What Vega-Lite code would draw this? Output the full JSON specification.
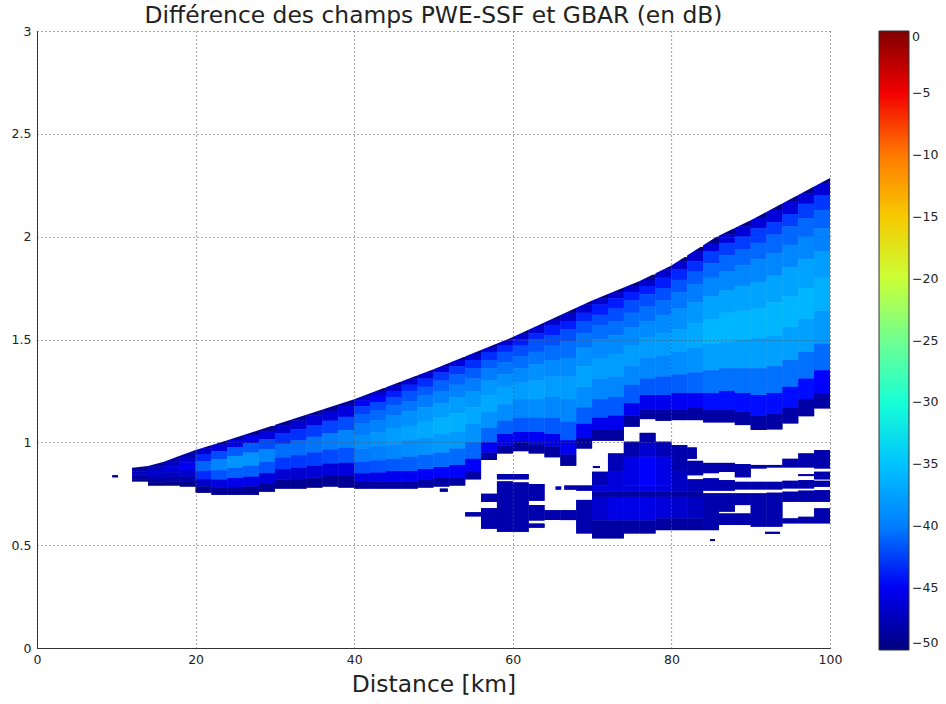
{"$schema":"https://vega.github.io/schema/vega-lite/v6.json","width":793,"height":617,"autosize":"none","padding":{"left":37,"top":31,"right":116,"bottom":56},"background":"white",
"title":{"text":"Différence des champs PWE-SSF et GBAR (en dB)","fontSize":23.4,"font":"DejaVu Sans","fontWeight":"normal","color":"#222","anchor":"middle","offset":-3},
"config":{"view":{"stroke":null},"font":"DejaVu Sans"},
"datasets":{"cells":[
{"x":9.5,"x2":10.2,"y":0.84,"y2":0.83,"v":-49},
{"x":12,"x2":14,"y":0.885,"y2":0.879,"v":-49.7},{"x":12,"x2":14,"y":0.879,"y2":0.87,"v":-48.8},{"x":12,"x2":14,"y":0.87,"y2":0.859,"v":-47.9},{"x":12,"x2":14,"y":0.859,"y2":0.844,"v":-47},{"x":12,"x2":14,"y":0.844,"y2":0.831,"v":-47.8},{"x":12,"x2":14,"y":0.831,"y2":0.82,"v":-48.8},{"x":12,"x2":14,"y":0.82,"y2":0.81,"v":-49.7},
{"x":14,"x2":16,"y":0.905,"y2":0.896,"v":-49.7},{"x":14,"x2":16,"y":0.896,"y2":0.882,"v":-48.6},{"x":14,"x2":16,"y":0.882,"y2":0.865,"v":-47.6},{"x":14,"x2":16,"y":0.865,"y2":0.842,"v":-46.5},{"x":14,"x2":16,"y":0.842,"y2":0.822,"v":-47.5},{"x":14,"x2":16,"y":0.822,"y2":0.805,"v":-48.6},{"x":14,"x2":16,"y":0.805,"y2":0.79,"v":-49.7},
{"x":16,"x2":18,"y":0.935,"y2":0.923,"v":-49.6},{"x":16,"x2":18,"y":0.923,"y2":0.906,"v":-48.4},{"x":16,"x2":18,"y":0.906,"y2":0.884,"v":-47.2},{"x":16,"x2":18,"y":0.884,"y2":0.855,"v":-46},{"x":16,"x2":18,"y":0.855,"y2":0.831,"v":-47.1},{"x":16,"x2":18,"y":0.831,"y2":0.809,"v":-48.4},{"x":16,"x2":18,"y":0.809,"y2":0.79,"v":-49.6},
{"x":18,"x2":20,"y":0.965,"y2":0.951,"v":-49.5},{"x":18,"x2":20,"y":0.951,"y2":0.929,"v":-48},{"x":18,"x2":20,"y":0.929,"y2":0.902,"v":-46.5},{"x":18,"x2":20,"y":0.902,"y2":0.866,"v":-45},{"x":18,"x2":20,"y":0.866,"y2":0.835,"v":-46.4},{"x":18,"x2":20,"y":0.835,"y2":0.808,"v":-48},{"x":18,"x2":20,"y":0.808,"y2":0.785,"v":-49.5},
{"x":20,"x2":22,"y":0.99,"y2":0.971,"v":-49.2},{"x":20,"x2":22,"y":0.971,"y2":0.943,"v":-46.6},{"x":20,"x2":22,"y":0.943,"y2":0.908,"v":-44},{"x":20,"x2":22,"y":0.908,"y2":0.861,"v":-41.5},{"x":20,"x2":22,"y":0.861,"y2":0.821,"v":-43.9},{"x":20,"x2":22,"y":0.821,"y2":0.786,"v":-46.6},{"x":20,"x2":22,"y":0.786,"y2":0.755,"v":-49.2},
{"x":22,"x2":24,"y":1.01,"y2":0.989,"v":-49},{"x":22,"x2":24,"y":0.989,"y2":0.957,"v":-45.8},{"x":22,"x2":24,"y":0.957,"y2":0.917,"v":-42.7},{"x":22,"x2":24,"y":0.917,"y2":0.864,"v":-39.5},{"x":22,"x2":24,"y":0.864,"y2":0.819,"v":-42.4},{"x":22,"x2":24,"y":0.819,"y2":0.779,"v":-45.8},{"x":22,"x2":24,"y":0.779,"y2":0.745,"v":-49},
{"x":24,"x2":26,"y":1.035,"y2":1.012,"v":-48.9},{"x":24,"x2":26,"y":1.012,"y2":0.977,"v":-45.4},{"x":24,"x2":26,"y":0.977,"y2":0.934,"v":-42},{"x":24,"x2":26,"y":0.934,"y2":0.876,"v":-38.5},{"x":24,"x2":26,"y":0.876,"y2":0.826,"v":-41.7},{"x":24,"x2":26,"y":0.826,"y2":0.783,"v":-45.4},{"x":24,"x2":26,"y":0.783,"y2":0.745,"v":-48.9},
{"x":26,"x2":28,"y":1.06,"y2":1.035,"v":-48.9},{"x":26,"x2":28,"y":1.035,"y2":0.997,"v":-45.4},{"x":26,"x2":28,"y":0.997,"y2":0.95,"v":-42},{"x":26,"x2":28,"y":0.95,"y2":0.887,"v":-38.5},{"x":26,"x2":28,"y":0.887,"y2":0.833,"v":-41.7},{"x":26,"x2":28,"y":0.833,"y2":0.786,"v":-45.4},{"x":26,"x2":28,"y":0.786,"y2":0.745,"v":-48.9},
{"x":28,"x2":30,"y":1.08,"y2":1.054,"v":-49},{"x":28,"x2":30,"y":1.054,"y2":1.016,"v":-45.8},{"x":28,"x2":30,"y":1.016,"y2":0.968,"v":-42.7},{"x":28,"x2":30,"y":0.968,"y2":0.904,"v":-39.5},{"x":28,"x2":30,"y":0.904,"y2":0.85,"v":-42.4},{"x":28,"x2":30,"y":0.85,"y2":0.802,"v":-45.8},{"x":28,"x2":30,"y":0.802,"y2":0.76,"v":-49},
{"x":30,"x2":32,"y":1.11,"y2":1.083,"v":-49.1},{"x":30,"x2":32,"y":1.083,"y2":1.043,"v":-46.4},{"x":30,"x2":32,"y":1.043,"y2":0.993,"v":-43.7},{"x":30,"x2":32,"y":0.993,"y2":0.926,"v":-41},{"x":30,"x2":32,"y":0.926,"y2":0.869,"v":-43.5},{"x":30,"x2":32,"y":0.869,"y2":0.819,"v":-46.4},{"x":30,"x2":32,"y":0.819,"y2":0.775,"v":-49.1},
{"x":32,"x2":34,"y":1.135,"y2":1.106,"v":-49.1},{"x":32,"x2":34,"y":1.106,"y2":1.063,"v":-46.4},{"x":32,"x2":34,"y":1.063,"y2":1.009,"v":-43.7},{"x":32,"x2":34,"y":1.009,"y2":0.937,"v":-41},{"x":32,"x2":34,"y":0.937,"y2":0.876,"v":-43.5},{"x":32,"x2":34,"y":0.876,"y2":0.822,"v":-46.4},{"x":32,"x2":34,"y":0.822,"y2":0.775,"v":-49.1},
{"x":34,"x2":36,"y":1.16,"y2":1.13,"v":-49},{"x":34,"x2":36,"y":1.13,"y2":1.084,"v":-46.2},{"x":34,"x2":36,"y":1.084,"y2":1.027,"v":-43.4},{"x":34,"x2":36,"y":1.027,"y2":0.951,"v":-40.5},{"x":34,"x2":36,"y":0.951,"y2":0.886,"v":-43.2},{"x":34,"x2":36,"y":0.886,"y2":0.829,"v":-46.2},{"x":34,"x2":36,"y":0.829,"y2":0.78,"v":-49},
{"x":36,"x2":38,"y":1.185,"y2":1.153,"v":-49},{"x":36,"x2":38,"y":1.153,"y2":1.105,"v":-46},{"x":36,"x2":38,"y":1.105,"y2":1.045,"v":-43},{"x":36,"x2":38,"y":1.045,"y2":0.965,"v":-40},{"x":36,"x2":38,"y":0.965,"y2":0.897,"v":-42.8},{"x":36,"x2":38,"y":0.897,"y2":0.837,"v":-46},{"x":36,"x2":38,"y":0.837,"y2":0.785,"v":-49},
{"x":38,"x2":40,"y":1.21,"y2":1.176,"v":-49},{"x":38,"x2":40,"y":1.176,"y2":1.124,"v":-45.8},{"x":38,"x2":40,"y":1.124,"y2":1.06,"v":-42.7},{"x":38,"x2":40,"y":1.06,"y2":0.974,"v":-39.5},{"x":38,"x2":40,"y":0.974,"y2":0.9,"v":-42.4},{"x":38,"x2":40,"y":0.9,"y2":0.836,"v":-45.8},{"x":38,"x2":40,"y":0.836,"y2":0.78,"v":-49},
{"x":40,"x2":42,"y":1.24,"y2":1.226,"v":-49.8},{"x":40,"x2":42,"y":1.226,"y2":1.203,"v":-46.9},{"x":40,"x2":42,"y":1.203,"y2":1.175,"v":-44.7},{"x":40,"x2":42,"y":1.175,"y2":1.138,"v":-43.2},{"x":40,"x2":42,"y":1.138,"y2":1.091,"v":-41.6},{"x":40,"x2":42,"y":1.091,"y2":1.035,"v":-40.1},{"x":40,"x2":42,"y":1.035,"y2":0.97,"v":-39},{"x":40,"x2":42,"y":0.97,"y2":0.905,"v":-40.3},{"x":40,"x2":42,"y":0.905,"y2":0.849,"v":-42.7},{"x":40,"x2":42,"y":0.849,"y2":0.808,"v":-45.6},{"x":40,"x2":42,"y":0.808,"y2":0.775,"v":-48.7},
{"x":42,"x2":44,"y":1.265,"y2":1.25,"v":-49.8},{"x":42,"x2":44,"y":1.25,"y2":1.226,"v":-46.8},{"x":42,"x2":44,"y":1.226,"y2":1.196,"v":-44.5},{"x":42,"x2":44,"y":1.196,"y2":1.157,"v":-42.9},{"x":42,"x2":44,"y":1.157,"y2":1.108,"v":-41.3},{"x":42,"x2":44,"y":1.108,"y2":1.049,"v":-39.7},{"x":42,"x2":44,"y":1.049,"y2":0.981,"v":-38.5},{"x":42,"x2":44,"y":0.981,"y2":0.912,"v":-39.9},{"x":42,"x2":44,"y":0.912,"y2":0.853,"v":-42.4},{"x":42,"x2":44,"y":0.853,"y2":0.809,"v":-45.4},{"x":42,"x2":44,"y":0.809,"y2":0.775,"v":-48.6},
{"x":44,"x2":46,"y":1.295,"y2":1.28,"v":-49.8},{"x":44,"x2":46,"y":1.28,"y2":1.25,"v":-46.6},{"x":44,"x2":46,"y":1.25,"y2":1.22,"v":-44.2},{"x":44,"x2":46,"y":1.22,"y2":1.18,"v":-42.6},{"x":44,"x2":46,"y":1.18,"y2":1.13,"v":-40.9},{"x":44,"x2":46,"y":1.13,"y2":1.07,"v":-39.2},{"x":44,"x2":46,"y":1.07,"y2":0.99,"v":-38},{"x":44,"x2":46,"y":0.99,"y2":0.92,"v":-39.4},{"x":44,"x2":46,"y":0.92,"y2":0.86,"v":-42.1},{"x":44,"x2":46,"y":0.86,"y2":0.81,"v":-45.2},{"x":44,"x2":46,"y":0.81,"y2":0.775,"v":-48.6},
{"x":46,"x2":48,"y":1.325,"y2":1.31,"v":-49.8},{"x":46,"x2":48,"y":1.31,"y2":1.28,"v":-46.5},{"x":46,"x2":48,"y":1.28,"y2":1.25,"v":-44},{"x":46,"x2":48,"y":1.25,"y2":1.2,"v":-42.3},{"x":46,"x2":48,"y":1.2,"y2":1.15,"v":-40.5},{"x":46,"x2":48,"y":1.15,"y2":1.08,"v":-38.8},{"x":46,"x2":48,"y":1.08,"y2":1.01,"v":-37.5},{"x":46,"x2":48,"y":1.01,"y2":0.93,"v":-39},{"x":46,"x2":48,"y":0.93,"y2":0.86,"v":-41.8},{"x":46,"x2":48,"y":0.86,"y2":0.81,"v":-45},{"x":46,"x2":48,"y":0.81,"y2":0.775,"v":-48.5},
{"x":48,"x2":50,"y":1.355,"y2":1.34,"v":-49.7},{"x":48,"x2":50,"y":1.34,"y2":1.31,"v":-46.4},{"x":48,"x2":50,"y":1.31,"y2":1.27,"v":-43.8},{"x":48,"x2":50,"y":1.27,"y2":1.23,"v":-41.9},{"x":48,"x2":50,"y":1.23,"y2":1.17,"v":-40.1},{"x":48,"x2":50,"y":1.17,"y2":1.1,"v":-38.3},{"x":48,"x2":50,"y":1.1,"y2":1.02,"v":-37},{"x":48,"x2":50,"y":1.02,"y2":0.94,"v":-38.6},{"x":48,"x2":50,"y":0.94,"y2":0.87,"v":-41.4},{"x":48,"x2":50,"y":0.87,"y2":0.82,"v":-44.8},{"x":48,"x2":50,"y":0.82,"y2":0.78,"v":-48.4},
{"x":50,"x2":52,"y":1.385,"y2":1.37,"v":-49.7},{"x":50,"x2":52,"y":1.37,"y2":1.34,"v":-46.2},{"x":50,"x2":52,"y":1.34,"y2":1.3,"v":-43.5},{"x":50,"x2":52,"y":1.3,"y2":1.25,"v":-41.6},{"x":50,"x2":52,"y":1.25,"y2":1.19,"v":-39.7},{"x":50,"x2":52,"y":1.19,"y2":1.12,"v":-37.9},{"x":50,"x2":52,"y":1.12,"y2":1.04,"v":-36.5},{"x":50,"x2":52,"y":1.04,"y2":0.95,"v":-38.1},{"x":50,"x2":52,"y":0.95,"y2":0.88,"v":-41.1},{"x":50,"x2":52,"y":0.88,"y2":0.83,"v":-44.6},{"x":50,"x2":52,"y":0.83,"y2":0.785,"v":-48.4},
{"x":52,"x2":54,"y":1.415,"y2":1.4,"v":-49.7},{"x":52,"x2":54,"y":1.4,"y2":1.37,"v":-46.2},{"x":52,"x2":54,"y":1.37,"y2":1.33,"v":-43.5},{"x":52,"x2":54,"y":1.33,"y2":1.28,"v":-41.6},{"x":52,"x2":54,"y":1.28,"y2":1.22,"v":-39.7},{"x":52,"x2":54,"y":1.22,"y2":1.14,"v":-37.9},{"x":52,"x2":54,"y":1.14,"y2":1.05,"v":-36.5},{"x":52,"x2":54,"y":1.05,"y2":0.97,"v":-38.1},{"x":52,"x2":54,"y":0.97,"y2":0.89,"v":-41.1},{"x":52,"x2":54,"y":0.89,"y2":0.83,"v":-44.6},{"x":52,"x2":54,"y":0.83,"y2":0.79,"v":-48.4},
{"x":54,"x2":56,"y":1.45,"y2":1.43,"v":-49.7},{"x":54,"x2":56,"y":1.43,"y2":1.4,"v":-46.4},{"x":54,"x2":56,"y":1.4,"y2":1.36,"v":-43.8},{"x":54,"x2":56,"y":1.36,"y2":1.31,"v":-41.9},{"x":54,"x2":56,"y":1.31,"y2":1.25,"v":-40.1},{"x":54,"x2":56,"y":1.25,"y2":1.17,"v":-38.3},{"x":54,"x2":56,"y":1.17,"y2":1.09,"v":-37},{"x":54,"x2":56,"y":1.09,"y2":1,"v":-38.6},{"x":54,"x2":56,"y":1,"y2":0.92,"v":-41.4},{"x":54,"x2":56,"y":0.92,"y2":0.86,"v":-44.8},{"x":54,"x2":56,"y":0.86,"y2":0.82,"v":-48.4},
{"x":56,"x2":58,"y":1.48,"y2":1.46,"v":-49.7},{"x":56,"x2":58,"y":1.46,"y2":1.44,"v":-46.4},{"x":56,"x2":58,"y":1.44,"y2":1.4,"v":-43.8},{"x":56,"x2":58,"y":1.4,"y2":1.36,"v":-41.9},{"x":56,"x2":58,"y":1.36,"y2":1.3,"v":-40.1},{"x":56,"x2":58,"y":1.3,"y2":1.23,"v":-38.3},{"x":56,"x2":58,"y":1.23,"y2":1.15,"v":-37},{"x":56,"x2":58,"y":1.15,"y2":1.07,"v":-38.6},{"x":56,"x2":58,"y":1.07,"y2":1,"v":-41.4},{"x":56,"x2":58,"y":1,"y2":0.95,"v":-44.8},{"x":56,"x2":58,"y":0.95,"y2":0.914,"v":-48.4},
{"x":58,"x2":60,"y":1.515,"y2":1.5,"v":-49.8},{"x":58,"x2":60,"y":1.5,"y2":1.47,"v":-46.5},{"x":58,"x2":60,"y":1.47,"y2":1.44,"v":-44},{"x":58,"x2":60,"y":1.44,"y2":1.39,"v":-42.3},{"x":58,"x2":60,"y":1.39,"y2":1.33,"v":-40.5},{"x":58,"x2":60,"y":1.33,"y2":1.27,"v":-38.8},{"x":58,"x2":60,"y":1.27,"y2":1.185,"v":-37.5},{"x":58,"x2":60,"y":1.185,"y2":1.105,"v":-39},{"x":58,"x2":60,"y":1.105,"y2":1.04,"v":-41.8},{"x":58,"x2":60,"y":1.04,"y2":0.985,"v":-45},{"x":58,"x2":60,"y":0.985,"y2":0.946,"v":-48.5},
{"x":60,"x2":62,"y":1.55,"y2":1.53,"v":-49.8},{"x":60,"x2":62,"y":1.53,"y2":1.5,"v":-46.6},{"x":60,"x2":62,"y":1.5,"y2":1.47,"v":-44.2},{"x":60,"x2":62,"y":1.47,"y2":1.42,"v":-42.6},{"x":60,"x2":62,"y":1.42,"y2":1.36,"v":-40.9},{"x":60,"x2":62,"y":1.36,"y2":1.29,"v":-39.2},{"x":60,"x2":62,"y":1.29,"y2":1.21,"v":-38},{"x":60,"x2":62,"y":1.21,"y2":1.12,"v":-39.4},{"x":60,"x2":62,"y":1.12,"y2":1.05,"v":-42.1},{"x":60,"x2":62,"y":1.05,"y2":1,"v":-45.2},{"x":60,"x2":62,"y":1,"y2":0.957,"v":-48.6},
{"x":62,"x2":64,"y":1.585,"y2":1.57,"v":-49.8},{"x":62,"x2":64,"y":1.57,"y2":1.53,"v":-46.5},{"x":62,"x2":64,"y":1.53,"y2":1.5,"v":-44},{"x":62,"x2":64,"y":1.5,"y2":1.44,"v":-42.3},{"x":62,"x2":64,"y":1.44,"y2":1.38,"v":-40.5},{"x":62,"x2":64,"y":1.38,"y2":1.3,"v":-38.8},{"x":62,"x2":64,"y":1.3,"y2":1.21,"v":-37.5},{"x":62,"x2":64,"y":1.21,"y2":1.12,"v":-39},{"x":62,"x2":64,"y":1.12,"y2":1.05,"v":-41.8},{"x":62,"x2":64,"y":1.05,"y2":0.99,"v":-45},{"x":62,"x2":64,"y":0.99,"y2":0.946,"v":-48.5},
{"x":64,"x2":66,"y":1.62,"y2":1.6,"v":-49.8},{"x":64,"x2":66,"y":1.6,"y2":1.57,"v":-46.6},{"x":64,"x2":66,"y":1.57,"y2":1.52,"v":-44.2},{"x":64,"x2":66,"y":1.52,"y2":1.47,"v":-42.6},{"x":64,"x2":66,"y":1.47,"y2":1.4,"v":-40.9},{"x":64,"x2":66,"y":1.4,"y2":1.32,"v":-39.2},{"x":64,"x2":66,"y":1.32,"y2":1.22,"v":-38},{"x":64,"x2":66,"y":1.22,"y2":1.12,"v":-39.4},{"x":64,"x2":66,"y":1.12,"y2":1.04,"v":-42.1},{"x":64,"x2":66,"y":1.04,"y2":0.98,"v":-45.2},{"x":64,"x2":66,"y":0.98,"y2":0.927,"v":-48.6},
{"x":66,"x2":68,"y":1.655,"y2":1.63,"v":-49.8},{"x":66,"x2":68,"y":1.63,"y2":1.59,"v":-46.6},{"x":66,"x2":68,"y":1.59,"y2":1.55,"v":-44.2},{"x":66,"x2":68,"y":1.55,"y2":1.49,"v":-42.6},{"x":66,"x2":68,"y":1.49,"y2":1.41,"v":-40.9},{"x":66,"x2":68,"y":1.41,"y2":1.32,"v":-39.2},{"x":66,"x2":68,"y":1.32,"y2":1.21,"v":-38},{"x":66,"x2":68,"y":1.21,"y2":1.1,"v":-39.4},{"x":66,"x2":68,"y":1.1,"y2":1.01,"v":-42.1},{"x":66,"x2":68,"y":1.01,"y2":0.94,"v":-45.2},{"x":66,"x2":68,"y":0.94,"y2":0.886,"v":-48.6},
{"x":68,"x2":70,"y":1.69,"y2":1.67,"v":-49.8},{"x":68,"x2":70,"y":1.67,"y2":1.63,"v":-46.5},{"x":68,"x2":70,"y":1.63,"y2":1.59,"v":-44},{"x":68,"x2":70,"y":1.59,"y2":1.53,"v":-42.3},{"x":68,"x2":70,"y":1.53,"y2":1.46,"v":-40.5},{"x":68,"x2":70,"y":1.46,"y2":1.37,"v":-38.8},{"x":68,"x2":70,"y":1.37,"y2":1.27,"v":-37.5},{"x":68,"x2":70,"y":1.27,"y2":1.17,"v":-39},{"x":68,"x2":70,"y":1.17,"y2":1.09,"v":-41.8},{"x":68,"x2":70,"y":1.09,"y2":1.02,"v":-45},{"x":68,"x2":70,"y":1.02,"y2":0.97,"v":-48.5},
{"x":70,"x2":72,"y":1.725,"y2":1.7,"v":-49.8},{"x":70,"x2":72,"y":1.7,"y2":1.67,"v":-46.6},{"x":70,"x2":72,"y":1.67,"y2":1.62,"v":-44.2},{"x":70,"x2":72,"y":1.62,"y2":1.57,"v":-42.6},{"x":70,"x2":72,"y":1.57,"y2":1.5,"v":-40.9},{"x":70,"x2":72,"y":1.5,"y2":1.41,"v":-39.2},{"x":70,"x2":72,"y":1.41,"y2":1.31,"v":-38},{"x":70,"x2":72,"y":1.31,"y2":1.21,"v":-39.4},{"x":70,"x2":72,"y":1.21,"y2":1.12,"v":-42.1},{"x":70,"x2":72,"y":1.12,"y2":1.06,"v":-45.2},{"x":70,"x2":72,"y":1.06,"y2":1.008,"v":-48.6},
{"x":72,"x2":74,"y":1.755,"y2":1.73,"v":-49.8},{"x":72,"x2":74,"y":1.73,"y2":1.7,"v":-46.6},{"x":72,"x2":74,"y":1.7,"y2":1.65,"v":-44.2},{"x":72,"x2":74,"y":1.65,"y2":1.59,"v":-42.6},{"x":72,"x2":74,"y":1.59,"y2":1.52,"v":-40.9},{"x":72,"x2":74,"y":1.52,"y2":1.43,"v":-39.2},{"x":72,"x2":74,"y":1.43,"y2":1.32,"v":-38},{"x":72,"x2":74,"y":1.32,"y2":1.22,"v":-39.4},{"x":72,"x2":74,"y":1.22,"y2":1.13,"v":-42.1},{"x":72,"x2":74,"y":1.13,"y2":1.06,"v":-45.2},{"x":72,"x2":74,"y":1.06,"y2":1.008,"v":-48.6},
{"x":74,"x2":76,"y":1.785,"y2":1.76,"v":-49.8},{"x":74,"x2":76,"y":1.76,"y2":1.73,"v":-46.6},{"x":74,"x2":76,"y":1.73,"y2":1.69,"v":-44.2},{"x":74,"x2":76,"y":1.69,"y2":1.63,"v":-42.6},{"x":74,"x2":76,"y":1.63,"y2":1.56,"v":-40.9},{"x":74,"x2":76,"y":1.56,"y2":1.47,"v":-39.2},{"x":74,"x2":76,"y":1.47,"y2":1.37,"v":-38},{"x":74,"x2":76,"y":1.37,"y2":1.28,"v":-39.4},{"x":74,"x2":76,"y":1.28,"y2":1.19,"v":-42.1},{"x":74,"x2":76,"y":1.19,"y2":1.13,"v":-45.2},{"x":74,"x2":76,"y":1.13,"y2":1.076,"v":-48.6},
{"x":76,"x2":78,"y":1.815,"y2":1.79,"v":-49.8},{"x":76,"x2":78,"y":1.79,"y2":1.76,"v":-46.6},{"x":76,"x2":78,"y":1.76,"y2":1.72,"v":-44.2},{"x":76,"x2":78,"y":1.72,"y2":1.66,"v":-42.6},{"x":76,"x2":78,"y":1.66,"y2":1.59,"v":-40.9},{"x":76,"x2":78,"y":1.59,"y2":1.51,"v":-39.2},{"x":76,"x2":78,"y":1.51,"y2":1.41,"v":-38},{"x":76,"x2":78,"y":1.41,"y2":1.31,"v":-39.4},{"x":76,"x2":78,"y":1.31,"y2":1.23,"v":-42.1},{"x":76,"x2":78,"y":1.23,"y2":1.16,"v":-45.2},{"x":76,"x2":78,"y":1.16,"y2":1.113,"v":-48.6},
{"x":78,"x2":80,"y":1.86,"y2":1.84,"v":-49.8},{"x":78,"x2":80,"y":1.84,"y2":1.8,"v":-46.6},{"x":78,"x2":80,"y":1.8,"y2":1.75,"v":-44.2},{"x":78,"x2":80,"y":1.75,"y2":1.69,"v":-42.6},{"x":78,"x2":80,"y":1.69,"y2":1.62,"v":-40.9},{"x":78,"x2":80,"y":1.62,"y2":1.53,"v":-39.2},{"x":78,"x2":80,"y":1.53,"y2":1.42,"v":-38},{"x":78,"x2":80,"y":1.42,"y2":1.32,"v":-39.4},{"x":78,"x2":80,"y":1.32,"y2":1.23,"v":-42.1},{"x":78,"x2":80,"y":1.23,"y2":1.16,"v":-45.2},{"x":78,"x2":80,"y":1.16,"y2":1.105,"v":-48.6},
{"x":80,"x2":82,"y":1.9,"y2":1.88,"v":-49.8},{"x":80,"x2":82,"y":1.88,"y2":1.84,"v":-46.5},{"x":80,"x2":82,"y":1.84,"y2":1.79,"v":-44},{"x":80,"x2":82,"y":1.79,"y2":1.73,"v":-42.3},{"x":80,"x2":82,"y":1.73,"y2":1.65,"v":-40.5},{"x":80,"x2":82,"y":1.65,"y2":1.55,"v":-38.8},{"x":80,"x2":82,"y":1.55,"y2":1.44,"v":-37.5},{"x":80,"x2":82,"y":1.44,"y2":1.33,"v":-39},{"x":80,"x2":82,"y":1.33,"y2":1.24,"v":-41.8},{"x":80,"x2":82,"y":1.24,"y2":1.16,"v":-45},{"x":80,"x2":82,"y":1.16,"y2":1.108,"v":-48.5},
{"x":82,"x2":84,"y":1.95,"y2":1.93,"v":-49.7},{"x":82,"x2":84,"y":1.93,"y2":1.88,"v":-46.4},{"x":82,"x2":84,"y":1.88,"y2":1.83,"v":-43.8},{"x":82,"x2":84,"y":1.83,"y2":1.77,"v":-41.9},{"x":82,"x2":84,"y":1.77,"y2":1.68,"v":-40.1},{"x":82,"x2":84,"y":1.68,"y2":1.58,"v":-38.3},{"x":82,"x2":84,"y":1.58,"y2":1.46,"v":-37},{"x":82,"x2":84,"y":1.46,"y2":1.34,"v":-38.6},{"x":82,"x2":84,"y":1.34,"y2":1.24,"v":-41.4},{"x":82,"x2":84,"y":1.24,"y2":1.17,"v":-44.8},{"x":82,"x2":84,"y":1.17,"y2":1.108,"v":-48.4},
{"x":84,"x2":86,"y":2,"y2":1.97,"v":-49.7},{"x":84,"x2":86,"y":1.97,"y2":1.93,"v":-46.1},{"x":84,"x2":86,"y":1.93,"y2":1.87,"v":-43.3},{"x":84,"x2":86,"y":1.87,"y2":1.8,"v":-41.3},{"x":84,"x2":86,"y":1.8,"y2":1.71,"v":-39.4},{"x":84,"x2":86,"y":1.71,"y2":1.6,"v":-37.4},{"x":84,"x2":86,"y":1.6,"y2":1.48,"v":-36},{"x":84,"x2":86,"y":1.48,"y2":1.35,"v":-37.7},{"x":84,"x2":86,"y":1.35,"y2":1.24,"v":-40.8},{"x":84,"x2":86,"y":1.24,"y2":1.16,"v":-44.4},{"x":84,"x2":86,"y":1.16,"y2":1.097,"v":-48.3},
{"x":86,"x2":88,"y":2.04,"y2":2.01,"v":-49.7},{"x":86,"x2":88,"y":2.01,"y2":1.97,"v":-46.1},{"x":86,"x2":88,"y":1.97,"y2":1.91,"v":-43.3},{"x":86,"x2":88,"y":1.91,"y2":1.83,"v":-41.3},{"x":86,"x2":88,"y":1.83,"y2":1.74,"v":-39.4},{"x":86,"x2":88,"y":1.74,"y2":1.63,"v":-37.4},{"x":86,"x2":88,"y":1.63,"y2":1.49,"v":-36},{"x":86,"x2":88,"y":1.49,"y2":1.36,"v":-37.7},{"x":86,"x2":88,"y":1.36,"y2":1.25,"v":-40.8},{"x":86,"x2":88,"y":1.25,"y2":1.16,"v":-44.4},{"x":86,"x2":88,"y":1.16,"y2":1.097,"v":-48.3},
{"x":88,"x2":90,"y":2.08,"y2":2.05,"v":-49.7},{"x":88,"x2":90,"y":2.05,"y2":2,"v":-46.1},{"x":88,"x2":90,"y":2,"y2":1.94,"v":-43.3},{"x":88,"x2":90,"y":1.94,"y2":1.86,"v":-41.3},{"x":88,"x2":90,"y":1.86,"y2":1.76,"v":-39.4},{"x":88,"x2":90,"y":1.76,"y2":1.64,"v":-37.4},{"x":88,"x2":90,"y":1.64,"y2":1.5,"v":-36},{"x":88,"x2":90,"y":1.5,"y2":1.36,"v":-37.7},{"x":88,"x2":90,"y":1.36,"y2":1.24,"v":-40.8},{"x":88,"x2":90,"y":1.24,"y2":1.15,"v":-44.4},{"x":88,"x2":90,"y":1.15,"y2":1.084,"v":-48.3},
{"x":90,"x2":92,"y":2.12,"y2":2.09,"v":-49.7},{"x":90,"x2":92,"y":2.09,"y2":2.04,"v":-46.1},{"x":90,"x2":92,"y":2.04,"y2":1.97,"v":-43.3},{"x":90,"x2":92,"y":1.97,"y2":1.89,"v":-41.3},{"x":90,"x2":92,"y":1.89,"y2":1.78,"v":-39.4},{"x":90,"x2":92,"y":1.78,"y2":1.65,"v":-37.4},{"x":90,"x2":92,"y":1.65,"y2":1.51,"v":-36},{"x":90,"x2":92,"y":1.51,"y2":1.36,"v":-37.7},{"x":90,"x2":92,"y":1.36,"y2":1.23,"v":-40.8},{"x":90,"x2":92,"y":1.23,"y2":1.13,"v":-44.4},{"x":90,"x2":92,"y":1.13,"y2":1.06,"v":-48.3},
{"x":92,"x2":94,"y":2.16,"y2":2.13,"v":-49.7},{"x":92,"x2":94,"y":2.13,"y2":2.07,"v":-46.1},{"x":92,"x2":94,"y":2.07,"y2":2.01,"v":-43.3},{"x":92,"x2":94,"y":2.01,"y2":1.92,"v":-41.3},{"x":92,"x2":94,"y":1.92,"y2":1.81,"v":-39.4},{"x":92,"x2":94,"y":1.81,"y2":1.68,"v":-37.4},{"x":92,"x2":94,"y":1.68,"y2":1.52,"v":-36},{"x":92,"x2":94,"y":1.52,"y2":1.37,"v":-37.7},{"x":92,"x2":94,"y":1.37,"y2":1.24,"v":-40.8},{"x":92,"x2":94,"y":1.24,"y2":1.14,"v":-44.4},{"x":92,"x2":94,"y":1.14,"y2":1.063,"v":-48.3},
{"x":94,"x2":96,"y":2.2,"y2":2.17,"v":-49.7},{"x":94,"x2":96,"y":2.17,"y2":2.11,"v":-46.1},{"x":94,"x2":96,"y":2.11,"y2":2.05,"v":-43.3},{"x":94,"x2":96,"y":2.05,"y2":1.96,"v":-41.3},{"x":94,"x2":96,"y":1.96,"y2":1.85,"v":-39.4},{"x":94,"x2":96,"y":1.85,"y2":1.71,"v":-37.4},{"x":94,"x2":96,"y":1.71,"y2":1.56,"v":-36},{"x":94,"x2":96,"y":1.56,"y2":1.4,"v":-37.7},{"x":94,"x2":96,"y":1.4,"y2":1.27,"v":-40.8},{"x":94,"x2":96,"y":1.27,"y2":1.17,"v":-44.4},{"x":94,"x2":96,"y":1.17,"y2":1.092,"v":-48.3},
{"x":96,"x2":98,"y":2.245,"y2":2.21,"v":-49.7},{"x":96,"x2":98,"y":2.21,"y2":2.16,"v":-46.1},{"x":96,"x2":98,"y":2.16,"y2":2.09,"v":-43.3},{"x":96,"x2":98,"y":2.09,"y2":2,"v":-41.3},{"x":96,"x2":98,"y":2,"y2":1.89,"v":-39.4},{"x":96,"x2":98,"y":1.89,"y2":1.75,"v":-37.4},{"x":96,"x2":98,"y":1.75,"y2":1.6,"v":-36},{"x":96,"x2":98,"y":1.6,"y2":1.44,"v":-37.7},{"x":96,"x2":98,"y":1.44,"y2":1.31,"v":-40.8},{"x":96,"x2":98,"y":1.31,"y2":1.21,"v":-44.4},{"x":96,"x2":98,"y":1.21,"y2":1.127,"v":-48.3},
{"x":98,"x2":100,"y":2.29,"y2":2.26,"v":-49.7},{"x":98,"x2":100,"y":2.26,"y2":2.2,"v":-46.2},{"x":98,"x2":100,"y":2.2,"y2":2.13,"v":-43.5},{"x":98,"x2":100,"y":2.13,"y2":2.04,"v":-41.6},{"x":98,"x2":100,"y":2.04,"y2":1.93,"v":-39.7},{"x":98,"x2":100,"y":1.93,"y2":1.8,"v":-37.9},{"x":98,"x2":100,"y":1.8,"y2":1.64,"v":-36.5},{"x":98,"x2":100,"y":1.64,"y2":1.48,"v":-38.1},{"x":98,"x2":100,"y":1.48,"y2":1.35,"v":-41.1},{"x":98,"x2":100,"y":1.35,"y2":1.24,"v":-44.6},{"x":98,"x2":100,"y":1.24,"y2":1.165,"v":-48.4},
{"x":50.8,"x2":51.8,"y":0.775,"y2":0.76,"v":-49},{"x":54,"x2":56,"y":0.66,"y2":0.64,"v":-48},{"x":56,"x2":58,"y":0.75,"y2":0.71,"v":-48},{"x":56,"x2":58,"y":0.68,"y2":0.58,"v":-48},
{"x":58,"x2":60,"y":0.846,"y2":0.82,"v":-48},{"x":58,"x2":60,"y":0.81,"y2":0.565,"v":-48},{"x":60,"x2":62,"y":0.846,"y2":0.82,"v":-48},{"x":60,"x2":62,"y":0.805,"y2":0.565,"v":-48},
{"x":62,"x2":64,"y":0.797,"y2":0.716,"v":-48},{"x":62,"x2":64,"y":0.695,"y2":0.62,"v":-48},{"x":62,"x2":64,"y":0.605,"y2":0.585,"v":-48},{"x":64,"x2":66,"y":0.67,"y2":0.622,"v":-48},{"x":66,"x2":68,"y":0.67,"y2":0.622,"v":-48},{"x":66.5,"x2":68,"y":0.79,"y2":0.77,"v":-48},{"x":65.4,"x2":66.1,"y":0.785,"y2":0.77,"v":-48},
{"x":68,"x2":70,"y":0.79,"y2":0.765,"v":-48},{"x":68,"x2":70,"y":0.72,"y2":0.557,"v":-48},{"x":70.1,"x2":71,"y":0.885,"y2":0.875,"v":-48},
{"x":70,"x2":72,"y":0.857,"y2":0.79,"v":-47.5},{"x":70,"x2":72,"y":0.79,"y2":0.76,"v":-46},{"x":70,"x2":72,"y":0.76,"y2":0.735,"v":-48.5},{"x":70,"x2":72,"y":0.735,"y2":0.62,"v":-46.5},{"x":70,"x2":72,"y":0.62,"y2":0.533,"v":-48.5},
{"x":72,"x2":74,"y":0.946,"y2":0.86,"v":-47.5},{"x":72,"x2":74,"y":0.86,"y2":0.76,"v":-46},{"x":72,"x2":74,"y":0.76,"y2":0.735,"v":-48.5},{"x":72,"x2":74,"y":0.735,"y2":0.62,"v":-45.5},{"x":72,"x2":74,"y":0.62,"y2":0.533,"v":-48.5},
{"x":74,"x2":76,"y":1.003,"y2":0.93,"v":-48},{"x":74,"x2":76,"y":0.93,"y2":0.79,"v":-45.5},{"x":74,"x2":76,"y":0.79,"y2":0.76,"v":-46},{"x":74,"x2":76,"y":0.76,"y2":0.735,"v":-48.5},{"x":74,"x2":76,"y":0.735,"y2":0.62,"v":-45.5},{"x":74,"x2":76,"y":0.62,"y2":0.557,"v":-48.5},
{"x":76,"x2":78,"y":1.046,"y2":1,"v":-48},{"x":76,"x2":78,"y":1,"y2":0.93,"v":-46.5},{"x":76,"x2":78,"y":0.93,"y2":0.79,"v":-44.5},{"x":76,"x2":78,"y":0.79,"y2":0.76,"v":-45.5},{"x":76,"x2":78,"y":0.76,"y2":0.735,"v":-48.5},{"x":76,"x2":78,"y":0.735,"y2":0.62,"v":-45.5},{"x":76,"x2":78,"y":0.62,"y2":0.557,"v":-48.5},
{"x":78,"x2":80,"y":1.003,"y2":0.93,"v":-47.5},{"x":78,"x2":80,"y":0.93,"y2":0.79,"v":-45.5},{"x":78,"x2":80,"y":0.79,"y2":0.76,"v":-46},{"x":78,"x2":80,"y":0.76,"y2":0.735,"v":-48.5},{"x":78,"x2":80,"y":0.735,"y2":0.63,"v":-46},{"x":78,"x2":80,"y":0.63,"y2":0.573,"v":-48.5},
{"x":80,"x2":82,"y":0.987,"y2":0.86,"v":-48},{"x":80,"x2":82,"y":0.86,"y2":0.76,"v":-47},{"x":80,"x2":82,"y":0.76,"y2":0.735,"v":-48.5},{"x":80,"x2":82,"y":0.735,"y2":0.63,"v":-46.5},{"x":80,"x2":82,"y":0.63,"y2":0.573,"v":-48.5},
{"x":82,"x2":83.2,"y":0.975,"y2":0.92,"v":-48},{"x":82,"x2":84,"y":0.91,"y2":0.84,"v":-48},{"x":82,"x2":84,"y":0.82,"y2":0.76,"v":-47.5},{"x":82,"x2":84,"y":0.76,"y2":0.735,"v":-48.5},{"x":82,"x2":84,"y":0.735,"y2":0.63,"v":-47},{"x":82,"x2":84,"y":0.63,"y2":0.573,"v":-48.5},
{"x":84,"x2":86,"y":0.9,"y2":0.85,"v":-48},{"x":84,"x2":86,"y":0.825,"y2":0.765,"v":-47.5},{"x":84,"x2":86,"y":0.752,"y2":0.573,"v":-48},{"x":84.9,"x2":85.5,"y":0.53,"y2":0.52,"v":-48},
{"x":86,"x2":88,"y":0.9,"y2":0.856,"v":-48},{"x":86,"x2":88,"y":0.816,"y2":0.765,"v":-48},{"x":86,"x2":88,"y":0.752,"y2":0.663,"v":-48},{"x":86,"x2":88,"y":0.654,"y2":0.598,"v":-48},
{"x":88,"x2":90,"y":0.894,"y2":0.83,"v":-48},{"x":88,"x2":90,"y":0.808,"y2":0.771,"v":-48},{"x":88,"x2":90,"y":0.752,"y2":0.695,"v":-48},{"x":88,"x2":90,"y":0.654,"y2":0.598,"v":-48},
{"x":90,"x2":92,"y":0.89,"y2":0.873,"v":-48},{"x":90,"x2":92,"y":0.808,"y2":0.771,"v":-48},{"x":90,"x2":92,"y":0.752,"y2":0.59,"v":-48},{"x":91.8,"x2":93.7,"y":0.565,"y2":0.555,"v":-48},
{"x":92,"x2":94,"y":0.89,"y2":0.878,"v":-48},{"x":92,"x2":94,"y":0.808,"y2":0.771,"v":-48},{"x":92,"x2":94,"y":0.755,"y2":0.59,"v":-48},
{"x":94,"x2":96,"y":0.92,"y2":0.878,"v":-48},{"x":94,"x2":96,"y":0.813,"y2":0.776,"v":-48},{"x":94,"x2":96,"y":0.76,"y2":0.711,"v":-48},{"x":94,"x2":96,"y":0.63,"y2":0.606,"v":-48},
{"x":96,"x2":98,"y":0.946,"y2":0.878,"v":-48},{"x":96,"x2":98,"y":0.845,"y2":0.836,"v":-48},{"x":96,"x2":98,"y":0.816,"y2":0.776,"v":-48},{"x":96,"x2":98,"y":0.765,"y2":0.711,"v":-48},{"x":96,"x2":98,"y":0.638,"y2":0.606,"v":-48},
{"x":98,"x2":100,"y":0.962,"y2":0.873,"v":-48},{"x":98,"x2":100,"y":0.857,"y2":0.82,"v":-48},{"x":98,"x2":100,"y":0.813,"y2":0.784,"v":-48},{"x":98,"x2":100,"y":0.767,"y2":0.711,"v":-48},{"x":98,"x2":100,"y":0.679,"y2":0.606,"v":-48}
]},
"encoding":{
"x":{"field":"x","type":"quantitative","scale":{"domain":[0,100],"nice":false},"axis":{"title":"Distance [km]","titleFontSize":23.4,"titleFontWeight":"normal","titleColor":"#222","titlePadding":8,"labelFontSize":12.5,"labelColor":"#222","labelFlush":false,"values":[0,20,40,60,80,100],"grid":true,"gridColor":"#555","gridDash":[1,3],"gridWidth":1.2,"ticks":false,"labelPadding":5,"domainColor":"#333","zindex":1}},
"y":{"field":"y","type":"quantitative","scale":{"domain":[0,3],"nice":false},"axis":{"title":null,"labelFontSize":12.5,"labelColor":"#222","values":[0,0.5,1,1.5,2,2.5,3],"format":"~g","grid":true,"gridColor":"#555","gridDash":[1,3],"gridWidth":1.2,"ticks":false,"labelPadding":6,"domainColor":"#333","zindex":1}}
},
"layer":[
{"mark":{"type":"rect"},"data":{"name":"cells"},"encoding":{"x2":{"field":"x2"},"y2":{"field":"y2"},
"color":{"field":"v","type":"quantitative","scale":{"domain":[-50,-44.5,-33,-31.25,-18.75,-6.25,-5.5,0],"range":["#00007f","#0000ff","#00dbff","#13ffe3","#e3ff13","#ff1300","#ff0000","#7f0000"]},"legend":{"title":null,"orient":"none","legendX":842,"legendY":0,"direction":"vertical","gradientLength":619,"gradientThickness":30,"gradientStrokeColor":"#333","gradientStrokeWidth":1,"labelFontSize":12.5,"labelColor":"#222","labelOffset":3,"values":[-50,-45,-40,-35,-30,-25,-20,-15,-10,-5,0],"encoding":{"labels":{"update":{"baseline":{"value":"middle"}}}}}}}},
{"mark":{"type":"rect"},"data":{"name":"cells"},"encoding":{"x2":{"field":"x2"},"y2":{"field":"y2"},
"color":{"field":"v","type":"quantitative"}}},
{"mark":{"type":"area","color":"white","interpolate":"linear"},
"data":{"values":[{"x":11.7,"top":0.875},{"x":14,"top":0.885},{"x":16,"top":0.905},{"x":18,"top":0.935},{"x":20,"top":0.963},{"x":24,"top":1.01},{"x":28,"top":1.06},{"x":32,"top":1.11},{"x":36,"top":1.16},{"x":40,"top":1.21},{"x":50,"top":1.355},{"x":60,"top":1.512},{"x":70,"top":1.69},{"x":76,"top":1.785},{"x":80,"top":1.86},{"x":85.7,"top":2},{"x":90,"top":2.08},{"x":100,"top":2.285}]},
"encoding":{"y":{"field":"top","type":"quantitative"},"y2":{"datum":3}}},
{"mark":{"type":"rule","color":"#333","strokeWidth":1},"encoding":{"x":{"datum":100},"y":{"value":0},"y2":{"value":617}}},
{"mark":{"type":"rule","color":"#333","strokeWidth":1},"encoding":{"y":{"datum":3},"x":{"value":0},"x2":{"value":793}}}
]}
